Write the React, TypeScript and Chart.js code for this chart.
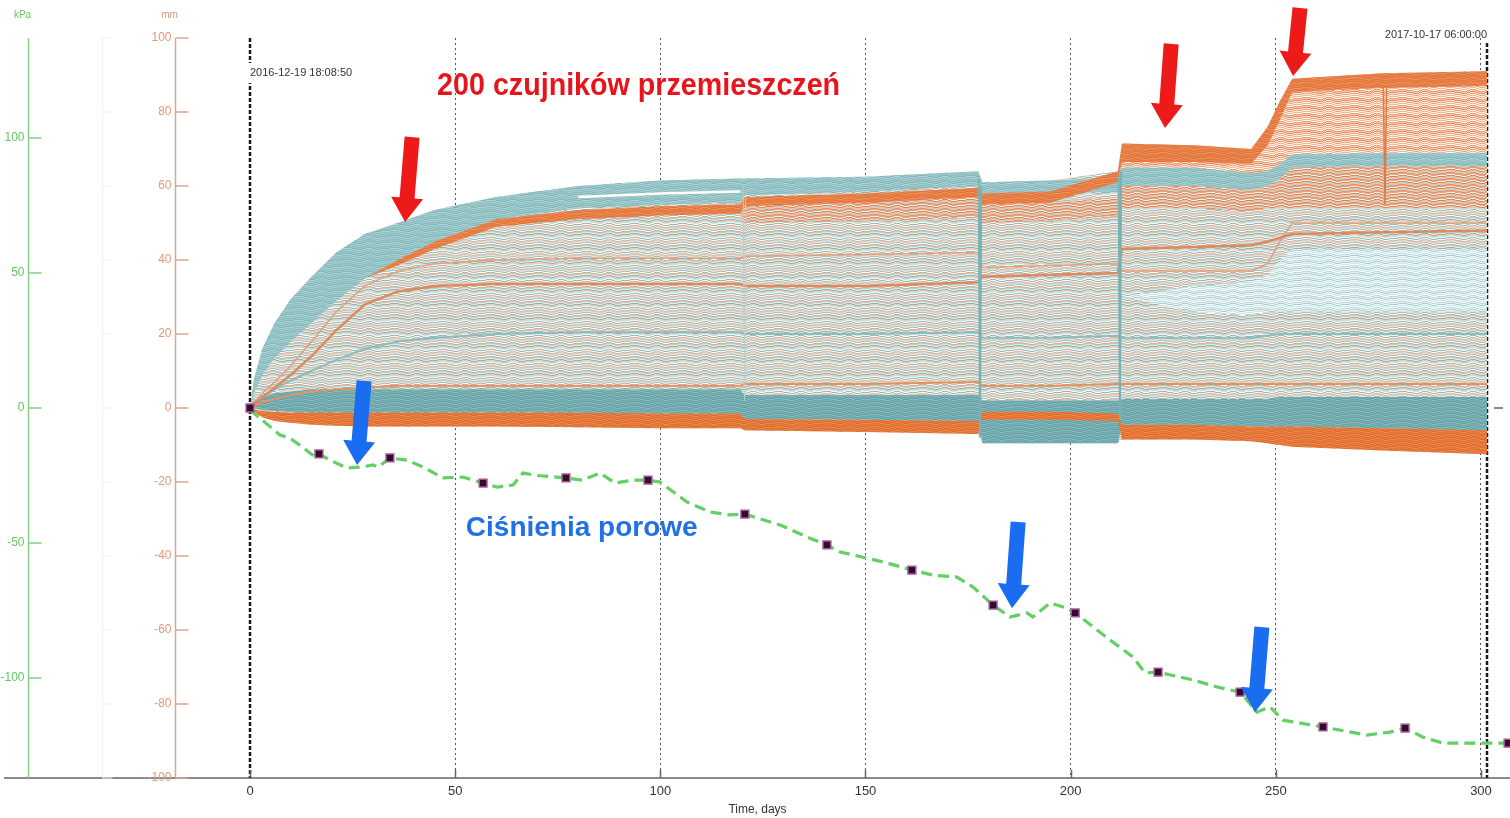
import { useEffect, useRef } from 'react';
import { Chart, registerables } from 'chart.js';

Chart.register(...registerables);

// ---------- axis ranges / ticks ----------
const xMin = -59.71;
const xMax = 307.07;
const xTicks = [0, 50, 100, 150, 200, 250, 300];
const mmTicks = [100, 80, 60, 40, 20, 0, -20, -40, -60, -80, -100];
const kPaTicks = [100, 50, 0, -50, -100];
const startDay = 0;
const endDay = 301.5;
const startLabel = '2016-12-19 18:08:50';
const endLabel = '2017-10-17 06:00:00';

// ---------- displacement sensors (mm), knots in days ----------
const days = [0, 1, 3, 6, 10, 15, 21, 28, 36, 45, 60, 80, 100, 119.5, 120.5, 150, 177.5, 178.5, 195, 211.5, 212.5, 230, 244, 248, 251, 254, 276, 301.5];

const envTop = [0, 8, 16, 23, 29.5, 35.5, 42, 47, 50, 53.5, 57, 60, 61.5, 62, 62, 62.5, 64, 61, 61.5, 64, 71.5, 71, 70, 76, 83, 89, 90.5, 91];
const envBot = [0, -1, -2.5, -3.5, -4, -4.5, -4.8, -5, -5, -5, -5, -5.2, -5.5, -5.5, -6, -6.5, -7, -9.5, -9.5, -9.5, -8.5, -8.5, -9, -9.5, -10, -10.5, -11.5, -12.5];
const tealTopHi = [0, 8, 16, 23, 29.5, 35.5, 42, 47, 50, 53.5, 57, 60, 61.5, 62, 62, 62.5, 64, 61, 61.5, 62, 65, 65, 63.5, 64, 66, 68.5, 69, 69];
const tealTopLo = [0, 4, 9, 13.5, 18, 23, 29, 35, 40, 45, 51, 54, 55, 55.5, 57.5, 58.5, 60, 57.5, 58, 58.5, 60, 60, 59, 60, 62, 65, 65.5, 65.5];
const orangeTopHi = [0, 4, 9, 13.5, 18, 23, 29, 35, 40, 45, 51, 53.5, 54.5, 55, 57, 58, 59.5, 58, 58.5, 64, 71.5, 71, 70, 76, 83, 89, 90.5, 91];
const orangeTopLo = [0, 4, 9, 13.5, 18, 23, 29, 35, 38.5, 43, 49, 51, 52, 52.5, 54.5, 55.5, 57, 55, 55.5, 61, 66.5, 66.5, 66, 71, 78, 85.5, 86.5, 87];
const salmonHi = [0, 8, 16, 23, 29.5, 35.5, 42, 47, 50, 53.5, 57, 60, 61.5, 62, 62, 62.5, 64, 61, 61.5, 62, 66.5, 66.5, 66, 71, 78, 85.5, 86.5, 87];
const salmonLo = [0, 8, 16, 23, 29.5, 35.5, 42, 47, 50, 53.5, 57, 60, 61.5, 62, 62, 62.5, 64, 61, 61.5, 62, 65, 65, 63.5, 64, 66, 68.5, 69, 69];
const salmonMidHi = [0, 4, 9, 13.5, 18, 23, 29, 35, 38.5, 43, 49, 51, 52, 52.5, 54.5, 55.5, 57, 55, 55.5, 57, 60, 60, 59, 60, 62, 65, 65.5, 65.5];
const salmonMidLo = [0, 4, 9, 13.5, 18, 23, 29, 35, 38.5, 43, 49, 51, 52, 52.5, 50, 50.5, 51.5, 50, 50.5, 52, 54, 54, 53, 54, 54, 54, 54, 54];
const lightBlueHi = [0, 2, 4, 6, 8, 10, 12, 14, 16, 18, 20, 20, 20, 20, 20, 20, 20, 20, 20, 20, 30, 33, 34, 36, 40, 43, 43, 43];
const lightBlueLo = [0, 2, 4, 6, 8, 10, 12, 14, 16, 18, 20, 20, 20, 20, 20, 20, 20, 20, 20, 20, 30, 26, 25, 26, 26, 26, 26, 26];
const orangeBotHi = [0, -0.5, -0.8, -1, -1.2, -1.2, -1.2, -1.2, -1.2, -1.2, -1.2, -1.3, -1.5, -1.5, -3, -3.2, -3.5, -1, -1, -1.5, -4.5, -4.5, -5, -5, -5, -5, -5.5, -6];
const orangeBotLo = [0, -1, -2.5, -3.5, -4, -4.5, -4.8, -5, -5, -5, -5, -5.2, -5.5, -5.5, -6, -6.5, -7, -3.2, -3.2, -3.5, -8.5, -8.5, -9, -9.5, -10, -10.5, -11.5, -12.5];
const tealBotHi = [0, 2, 3, 4, 4.5, 5, 5, 5, 5, 5, 5, 5, 5, 5, 3.5, 3.5, 3.5, 2, 2, 2, 2.5, 2.5, 2.5, 2.5, 3, 3, 3, 3];
const tealBotLo = [0, 0, -0.5, -0.8, -1, -1.2, -1.2, -1.2, -1.2, -1.2, -1.2, -1.3, -1.5, -1.5, -3, -3.2, -3.5, -9.5, -9.5, -9.5, -4.5, -4.5, -5, -5, -5, -5, -5.5, -6];

const orangeLine33 = [0, 1, 3, 5.5, 9, 14, 21, 28, 31.5, 33, 33.5, 33.5, 33.5, 33.5, 33, 33, 34, 35.5, 36, 36.5, 43, 43.5, 44, 45, 46, 47, 47.5, 48];
const orangeLine40 = [0, 1.5, 4, 7, 11.5, 18, 26, 33, 37, 39, 40, 40.5, 40.5, 40.5, 41, 41.5, 42, 38, 38.5, 39, 37, 37, 37, 39, 45, 50, 50, 50];
const tealLine20 = [0, 1.2, 3, 5, 7.5, 10, 13, 16, 18, 19, 20, 20.5, 20.5, 20.5, 20, 20, 20.5, 19, 19, 19.5, 19, 19, 19, 19.5, 20, 20, 20, 20];
const orangeLow6 = [0, 0.5, 1.5, 2.5, 3.5, 4.5, 5, 5.5, 6, 6, 6, 6, 6, 6, 6.5, 6.5, 7, 6, 6, 6.5, 6.5, 6.5, 6.5, 6.5, 6.5, 6.5, 6.5, 6.5];
const whiteGap = [null, null, null, null, null, null, null, null, null, null, null, 57, 58, 58.5, null, null, null, null, null, null, null, null, null, null, null, null, null, null];

const spikeDays = [276.2, 276.6, 277];
const spikeVals = [87, 55, 87];
const glitch178Days = [177.6, 177.9, 178.2];
const glitch178Vals = [62, -8, 60];
const glitch212Days = [211.7, 212, 212.3];
const glitch212Vals = [63, -3, 64];
const glitch120Days = [120.2, 120.5, 120.8];
const glitch120Vals = [60, 2, 58];

// ---------- pore pressure (kPa) ----------
const pressDays = [0, 2.9, 7.3, 9.7, 12.7, 15.8, 16.8, 19.5, 23.6, 26.8, 30, 31.2, 34.1, 38.3, 42.2, 47, 51.9, 56.8, 60.2, 64.1, 66.5, 70, 77, 81, 85.3, 89, 93.3, 97, 99.9, 106.5, 112.1, 117, 120.6, 129.2, 135.8, 140.6, 143.8, 150.4, 155.3, 161.3, 166.5, 172.3, 176.2, 181.1, 185.2, 189.4, 190.8, 195, 199.1, 201.1, 205.5, 209.6, 215.2, 218.1, 221.3, 229.8, 235.7, 241.3, 245.4, 248.6, 251.8, 261.5, 272.2, 277.8, 281.5, 285.9, 290.8, 300.5, 306.6];
const pressVals = [-0.7, -4.4, -10, -11.1, -14.4, -18.1, -17, -19.3, -22.2, -21.9, -21.1, -21.9, -18.5, -19.3, -21.9, -25.9, -25.6, -27.8, -29.3, -28.5, -24.1, -25, -25.9, -26.7, -24.1, -27.8, -26.7, -26.7, -27.4, -34.8, -38.5, -39.6, -39.3, -43.3, -47.8, -50.7, -53.3, -55.6, -57.4, -60, -61.9, -62.6, -66.3, -73, -77.4, -75.9, -77.4, -72.2, -74.1, -75.9, -81.1, -85.9, -92.2, -98.1, -97.8, -100.7, -103.3, -105.2, -112.6, -110.7, -115.6, -118.1, -121.1, -120, -118.5, -121.9, -124.1, -124.1, -124.1];
const markDays = [0, 16.8, 34.1, 56.8, 77, 97, 120.6, 140.6, 161.3, 181.1, 201.1, 221.3, 241.3, 261.5, 281.5, 306.6];
const markVals = [0, -17, -18.5, -27.8, -25.9, -26.7, -39.3, -50.7, -60, -73, -75.9, -97.8, -105.2, -118.1, -118.5, -124.1];

// ---------- annotations (data coordinates: day, mm) ----------
const redTitle = { text: '200 czujników przemieszczeń', day: 45.6, mm: 84.6 };
const blueTitle = { text: 'Ciśnienia porowe', day: 52.6, mm: -32.4 };
const redArrows = [[39.5, 73.2, 37.8, 50.3], [224.5, 98.4, 223, 75.7], [255.9, 108.1, 254.2, 89.7]];
const blueArrows = [[27.8, 7.3, 26.1, -15.4], [187.2, -30.8, 185.7, -54.1], [246.6, -59.2, 244.9, -82.2]];
const kPaAxisDay = -54.1;
const mmAxisDay = -18.3;
const faintAxisDay = -36;

// ---------- pattern rows (styles) ----------
const CORE_ROWS = ['#8fbec0', '#f6f3ef', '#efb797', '#bcd8d8', '#f4dccf', '#9cc6c8', '#ffffff', '#e6aa8a', '#b2d2d3', '#ece6df', '#88b9bb', '#f4cdb6', '#c9dfdf', '#faf6f2'];
const TEAL_ROWS = ['#88bcbf', '#9cc8ca', '#80b6b9', '#b0d3d4', '#8dbfc2', '#a4cbcd'];
const ORANGE_ROWS = ['#e5793f', '#e8844c', '#e27236', '#ec9461', '#e67c43'];
const SALMON_ROWS = ['#f2b493', '#ffffff', '#e99a6f', '#f7cdb5', '#ec8e5c', '#fbe3d6', '#efa57d', '#f6f0ec'];
const SALMONMID_ROWS = ['#eba07a', '#f6f0ec', '#e08656', '#f2c2a6', '#b8d4d4', '#e9956a'];
const LIGHTBLUE_ROWS = ['#cfe5e8', '#ffffff', '#b7dadd', '#e8f3f4', '#a6cfd3', '#f4f8f8'];
const TEALBOT_ROWS = ['#6aa6aa', '#78b1b4', '#64a0a5', '#86babd'];
const ORANGEBOT_ROWS = ['#e2702f', '#e77d40', '#dd6a2a', '#ea8a52'];
const WIGGLE = [0, 0, 1, 1, 1, 0, 0, -1, -1, 0, 1, 1, 0, -1, -1, 0];

const FONT = "'Liberation Sans', Arial, sans-serif";

function makePattern(rows: string[]): CanvasPattern | string {
  const c = document.createElement('canvas');
  const bw = 3;
  c.width = WIGGLE.length * bw;
  c.height = rows.length;
  const g = c.getContext('2d');
  if (!g) return rows[0];
  const H = rows.length;
  WIGGLE.forEach((off, b) => {
    for (let i = 0; i < H; i++) {
      g.fillStyle = rows[(i + off + H) % H];
      g.fillRect(b * bw, i, bw, 1);
    }
  });
  return g.createPattern(c, 'repeat') || rows[0];
}

const pts = (xs: number[], ys: (number | null)[]) => xs.map((x, i) => ({ x, y: ys[i] }));

function drawArrow(ctx: CanvasRenderingContext2D, tx: number, ty: number, hx: number, hy: number, color: string) {
  const dx = hx - tx;
  const dy = hy - ty;
  const len = Math.hypot(dx, dy);
  const ux = dx / len, uy = dy / len;
  const px = -uy, py = ux;
  const sw = 7.5, hw = 16, hl = 24;
  const bx = hx - ux * hl, by = hy - uy * hl;
  ctx.beginPath();
  ctx.moveTo(tx + px * sw, ty + py * sw);
  ctx.lineTo(bx + px * sw, by + py * sw);
  ctx.lineTo(bx + px * hw, by + py * hw);
  ctx.lineTo(hx, hy);
  ctx.lineTo(bx - px * hw, by - py * hw);
  ctx.lineTo(bx - px * sw, by - py * sw);
  ctx.lineTo(tx - px * sw, ty - py * sw);
  ctx.closePath();
  ctx.fillStyle = color;
  ctx.fill();
}

const decorPlugin = {
  id: 'decor',
  beforeDatasetsDraw(chart: any) {
    const { ctx, chartArea, scales } = chart;
    const sx = scales.x;
    const x0 = Math.round(sx.getPixelForValue(startDay));
    const x1 = Math.round(sx.getPixelForValue(endDay));
    ctx.save();
    ctx.strokeStyle = '#1a1a1a';
    ctx.lineWidth = 2.5;
    ctx.setLineDash([4, 2]);
    ctx.beginPath();
    ctx.moveTo(x0, chartArea.top);
    ctx.lineTo(x0, chartArea.bottom);
    ctx.moveTo(x1, chartArea.top + 5);
    ctx.lineTo(x1, chartArea.bottom);
    ctx.stroke();
    ctx.setLineDash([]);
    ctx.font = `11px ${FONT}`;
    ctx.textBaseline = 'middle';
    ctx.fillStyle = '#ffffff';
    ctx.fillRect(x0 - 3, 63, 120, 20);
    ctx.fillStyle = '#333';
    ctx.textAlign = 'left';
    ctx.fillText(startLabel, x0, 73, 116);
    ctx.textAlign = 'right';
    ctx.fillText(endLabel, x1, 35, 116);
    ctx.restore();
  },
  afterDraw(chart: any) {
    const { ctx, chartArea, scales } = chart;
    const sx = scales.x, sy = scales.y, sk = scales.y2;
    const top = chartArea.top, bottom = chartArea.bottom;
    ctx.save();
    // faint middle axis
    const xf = Math.round(sx.getPixelForValue(faintAxisDay)) + 0.5;
    ctx.strokeStyle = '#f1f1f1';
    ctx.lineWidth = 1;
    ctx.beginPath();
    ctx.moveTo(xf, top);
    ctx.lineTo(xf, bottom);
    mmTicks.forEach((t) => {
      const y = sy.getPixelForValue(t);
      ctx.moveTo(xf, y);
      ctx.lineTo(xf + 10, y);
    });
    ctx.stroke();

    const drawAxis = (scale: any, xp: number, ticks: number[], lineCol: string, labCol: string, title: string) => {
      ctx.strokeStyle = lineCol;
      ctx.lineWidth = 1.5;
      ctx.beginPath();
      ctx.moveTo(xp, top);
      ctx.lineTo(xp, bottom);
      ticks.forEach((t) => {
        const y = scale.getPixelForValue(t);
        ctx.moveTo(xp, y);
        ctx.lineTo(xp + 13, y);
      });
      ctx.stroke();
      ctx.fillStyle = labCol;
      ctx.font = `12px ${FONT}`;
      ctx.textAlign = 'right';
      ctx.textBaseline = 'middle';
      ticks.forEach((t) => {
        ctx.fillText(String(t), xp - 4, scale.getPixelForValue(t));
      });
      ctx.font = `10px ${FONT}`;
      ctx.textAlign = 'center';
      ctx.fillText(title, xp - 6, 15);
    };
    const xk = Math.round(sx.getPixelForValue(kPaAxisDay)) + 0.5;
    const xm = Math.round(sx.getPixelForValue(mmAxisDay)) + 0.5;
    drawAxis(sk, xk, kPaTicks, '#86d086', '#62c862', 'kPa');
    drawAxis(sy, xm, mmTicks, '#d8a890', '#e39a78', 'mm');

    // x-axis inner tick marks
    ctx.strokeStyle = '#666';
    ctx.lineWidth = 1.5;
    ctx.beginPath();
    xTicks.forEach((t) => {
      const x = Math.round(sx.getPixelForValue(t)) + 0.5;
      ctx.moveTo(x, bottom);
      ctx.lineTo(x, bottom - 8);
    });
    const y0 = sy.getPixelForValue(0);
    ctx.moveTo(chartArea.right - 16, y0);
    ctx.lineTo(chartArea.right - 7, y0);
    ctx.stroke();

    // arrows
    redArrows.forEach((a) => drawArrow(ctx, sx.getPixelForValue(a[0]), sy.getPixelForValue(a[1]), sx.getPixelForValue(a[2]), sy.getPixelForValue(a[3]), '#ee1a1a'));
    blueArrows.forEach((a) => drawArrow(ctx, sx.getPixelForValue(a[0]), sy.getPixelForValue(a[1]), sx.getPixelForValue(a[2]), sy.getPixelForValue(a[3]), '#1a6cf0'));

    // titles
    ctx.textAlign = 'left';
    ctx.textBaseline = 'alphabetic';
    ctx.fillStyle = '#e8141c';
    ctx.font = `bold 31px ${FONT}`;
    ctx.fillText(redTitle.text, sx.getPixelForValue(redTitle.day), sy.getPixelForValue(redTitle.mm), 403);
    ctx.fillStyle = '#2270e6';
    ctx.font = `bold 28px ${FONT}`;
    ctx.textBaseline = 'middle';
    ctx.fillText(blueTitle.text, sx.getPixelForValue(blueTitle.day), sy.getPixelForValue(blueTitle.mm), 234);
    ctx.restore();
  },
};

export default function App() {
  const ref = useRef<HTMLCanvasElement>(null);
  useEffect(() => {
    const canvas = ref.current;
    if (!canvas) return;
    const P = {
      core: makePattern(CORE_ROWS),
      teal: makePattern(TEAL_ROWS),
      orange: makePattern(ORANGE_ROWS),
      salmon: makePattern(SALMON_ROWS),
      salmonMid: makePattern(SALMONMID_ROWS),
      lightBlue: makePattern(LIGHTBLUE_ROWS),
      tealBot: makePattern(TEALBOT_ROWS),
      orangeBot: makePattern(ORANGEBOT_ROWS),
    };
    const band = (hi: number[], lo: number[], pattern: any) => [
      { data: pts(days, hi), borderWidth: 0, pointRadius: 0, fill: '+1', backgroundColor: pattern, yAxisID: 'y' },
      { data: pts(days, lo), borderWidth: 0, pointRadius: 0, fill: false, yAxisID: 'y' },
    ];
    const line = (xs: number[], ys: (number | null)[], color: string, w: number) => ({
      data: pts(xs, ys), borderColor: color, borderWidth: w, pointRadius: 0, fill: false, yAxisID: 'y',
    });
    const datasets: any[] = [
      {
        data: pts(markDays, markVals), yAxisID: 'y2', showLine: false, pointStyle: 'rect', pointRadius: 5.5,
        pointBackgroundColor: '#2e0e2a', pointBorderColor: '#a65596', pointBorderWidth: 1.5, fill: false,
      },
      {
        data: pts(pressDays, pressVals), yAxisID: 'y2', borderColor: '#63d063', borderWidth: 3.2,
        borderDash: [11, 6], pointRadius: 0, fill: false,
      },
      line(spikeDays, spikeVals, '#e07a45', 1.5),
      line(glitch178Days, glitch178Vals, '#78b2b5', 2),
      line(glitch212Days, glitch212Vals, '#78b2b5', 2),
      line(glitch120Days, glitch120Vals, '#b8cfcf', 1),
      line(days, whiteGap, '#ffffff', 2.5),
      line(days, orangeLine33, '#dc8a5e', 2.5),
      line(days, orangeLine40, '#e2a07c', 1.5),
      line(days, tealLine20, '#8cbcbe', 2),
      line(days, orangeLow6, '#e4935f', 2),
      ...band(orangeTopHi, orangeTopLo, P.orange),
      ...band(salmonHi, salmonLo, P.salmon),
      ...band(tealTopHi, tealTopLo, P.teal),
      ...band(salmonMidHi, salmonMidLo, P.salmonMid),
      ...band(lightBlueHi, lightBlueLo, P.lightBlue),
      ...band(orangeBotHi, orangeBotLo, P.orangeBot),
      ...band(tealBotHi, tealBotLo, P.tealBot),
      ...band(envTop, envBot, P.core),
    ];
    const chart = new Chart(canvas, {
      type: 'line',
      data: { datasets },
      options: {
        animation: false,
        responsive: false,
        devicePixelRatio: 1,
        layout: { autoPadding: false, padding: { left: 5, top: 38, right: 0, bottom: 0 } },
        elements: { line: { tension: 0 }, point: { radius: 0 } },
        plugins: { legend: { display: false }, tooltip: { enabled: false } },
        scales: {
          x: {
            type: 'linear',
            min: xMin,
            max: xMax,
            afterBuildTicks: (s: any) => {
              s.ticks = xTicks.map((v) => ({ value: v }));
            },
            afterFit: (s: any) => {
              s.height = 40;
              s.paddingLeft = 0;
              s.paddingRight = 0;
            },
            ticks: { color: '#333', font: { family: FONT, size: 13 }, padding: 6, maxRotation: 0, autoSkip: false },
            grid: {
              color: (c: any) => (c.tick && c.tick.value === 0 ? 'rgba(0,0,0,0)' : '#555'),
              lineWidth: 1,
              drawTicks: false,
            },
            border: { display: true, color: '#8a8a8a', width: 2, dash: [2, 3] },
            title: { display: true, text: 'Time, days', color: '#333', font: { family: FONT, size: 12 }, padding: { top: 0, bottom: 1 } },
          },
          y: { type: 'linear', min: -100, max: 100, display: false },
          y2: { type: 'linear', min: -137, max: 137, display: false },
        },
      } as any,
      plugins: [decorPlugin],
    });
    return () => chart.destroy();
  }, []);
  return (
    <div style={{ position: 'absolute', left: 0, top: 0, width: 1510, height: 818, background: '#ffffff' }}>
      <canvas ref={ref} width={1510} height={818} style={{ display: 'block' }} />
    </div>
  );
}
